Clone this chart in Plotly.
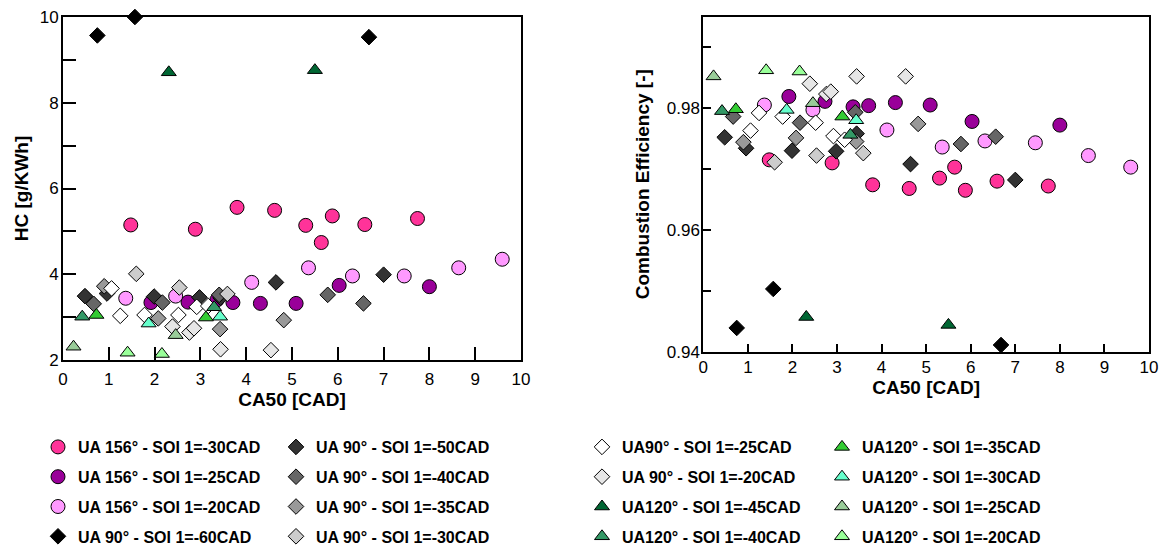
import plotly.graph_objects as go

# ---------------- data ----------------
names = [
    "UA 156° - SOI 1=-30CAD", "UA 156° - SOI 1=-25CAD", "UA 156° - SOI 1=-20CAD", "UA 90° - SOI 1=-60CAD",
    "UA 90° - SOI 1=-50CAD", "UA 90° - SOI 1=-40CAD", "UA 90° - SOI 1=-35CAD", "UA 90° - SOI 1=-30CAD",
    "UA90° - SOI 1=-25CAD", "UA 90° - SOI 1=-20CAD", "UA120° - SOI 1=-45CAD", "UA120° - SOI 1=-40CAD",
    "UA120° - SOI 1=-35CAD", "UA120° - SOI 1=-30CAD", "UA120° - SOI 1=-25CAD", "UA120° - SOI 1=-20CAD",
]

ua156_30_ca50 = [1.48, 2.89, 3.80, 4.62, 5.30, 5.64, 5.88, 6.59, 7.74]
ua156_30_hc = [5.15, 5.05, 5.56, 5.49, 5.14, 4.74, 5.36, 5.16, 5.30]
ua156_30_ce = [0.9715, 0.9710, 0.9674, 0.9668, 0.9685, 0.9703, 0.9665, 0.9680, 0.9672]

ua156_25_ca50 = [1.92, 2.73, 3.36, 3.71, 4.31, 5.09, 6.03, 8.00]
ua156_25_hc = [3.34, 3.35, 3.40, 3.34, 3.32, 3.32, 3.74, 3.71]
ua156_25_ce = [0.9819, 0.9811, 0.9802, 0.9804, 0.9809, 0.9805, 0.9778, 0.9772]

ua156_20_ca50 = [1.37, 2.46, 4.12, 5.36, 6.32, 7.45, 8.64, 9.59]
ua156_20_hc = [3.44, 3.49, 3.81, 4.15, 3.96, 3.96, 4.15, 4.35]
ua156_20_ce = [0.9805, 0.9797, 0.9764, 0.9736, 0.9746, 0.9743, 0.9722, 0.9703]

ua90_60_ca50 = [0.75, 1.57, 6.68]
ua90_60_hc = [9.57, 10.0, 9.53]
ua90_60_ce = [0.9439, 0.9503, 0.9411]

ua90_50_ca50 = [0.48, 0.96, 1.99, 2.98, 3.44, 4.65, 7.00]
ua90_50_hc = [3.49, 3.55, 3.48, 3.46, 3.45, 3.81, 3.99]
ua90_50_ce = [0.9752, 0.9734, 0.9730, 0.9729, 0.9758, 0.9708, 0.9682]

ua90_40_ca50 = [0.67, 2.17, 3.41, 5.78, 6.56]
ua90_40_hc = [3.31, 3.34, 3.52, 3.52, 3.32]
ua90_40_ce = [0.9786, 0.9776, 0.9793, 0.9741, 0.9753]

ua90_35_ca50 = [0.90, 2.08, 3.43, 4.82]
ua90_35_hc = [3.72, 2.97, 2.72, 2.93]
ua90_35_ce = [0.9744, 0.9751, 0.9745, 0.9774]

ua90_30_ca50 = [1.60, 2.54, 3.59]
ua90_30_hc = [4.01, 3.69, 3.54]
ua90_30_ce = [0.9711, 0.9722, 0.9726]

ua90_25_ca50 = [1.06, 1.25, 1.78, 2.52, 2.92, 3.17]
ua90_25_hc = [3.67, 3.03, 3.05, 3.05, 3.24, 3.26]
ua90_25_ce = [0.9763, 0.9792, 0.9786, 0.9776, 0.9754, 0.9748]

ua90_20_ca50 = [2.39, 2.76, 2.86, 3.44, 4.54]
ua90_20_hc = [2.78, 2.64, 2.74, 2.25, 2.23]
ua90_20_ce = [0.9840, 0.9823, 0.9827, 0.9852, 0.9852]

ua120_45_ca50 = [2.31, 5.50]
ua120_45_hc = [8.71, 8.76]
ua120_45_ce = [0.9457, 0.9444]

ua120_40_ca50 = [0.42, 3.30]
ua120_40_hc = [3.01, 3.23]
ua120_40_ce = [0.9795, 0.9756]

ua120_35_ca50 = [0.73, 3.12]
ua120_35_hc = [3.05, 2.99]
ua120_35_ce = [0.9798, 0.9786]

ua120_30_ca50 = [1.87, 3.43]
ua120_30_hc = [2.85, 3.01]
ua120_30_ce = [0.9797, 0.9780]

ua120_25_ca50 = [0.23, 2.46]
ua120_25_hc = [2.31, 2.58]
ua120_25_ce = [0.9852, 0.9808]

ua120_20_ca50 = [1.41, 2.16]
ua120_20_hc = [2.17, 2.14]
ua120_20_ce = [0.9862, 0.9860]

series_ca50 = [ua156_30_ca50, ua156_25_ca50, ua156_20_ca50, ua90_60_ca50, ua90_50_ca50, ua90_40_ca50,
               ua90_35_ca50, ua90_30_ca50, ua90_25_ca50, ua90_20_ca50, ua120_45_ca50, ua120_40_ca50,
               ua120_35_ca50, ua120_30_ca50, ua120_25_ca50, ua120_20_ca50]
series_hc = [ua156_30_hc, ua156_25_hc, ua156_20_hc, ua90_60_hc, ua90_50_hc, ua90_40_hc,
             ua90_35_hc, ua90_30_hc, ua90_25_hc, ua90_20_hc, ua120_45_hc, ua120_40_hc,
             ua120_35_hc, ua120_30_hc, ua120_25_hc, ua120_20_hc]
series_ce = [ua156_30_ce, ua156_25_ce, ua156_20_ce, ua90_60_ce, ua90_50_ce, ua90_40_ce,
             ua90_35_ce, ua90_30_ce, ua90_25_ce, ua90_20_ce, ua120_45_ce, ua120_40_ce,
             ua120_35_ce, ua120_30_ce, ua120_25_ce, ua120_20_ce]

colors = ["#FF3399", "#990099", "#FF99FF", "#000000", "#333333", "#666666", "#999999", "#CCCCCC",
          "#FFFFFF", "#E6E6E6", "#006633", "#339966", "#33CC33", "#66FFCC", "#99CC99", "#99FF99"]
symbols = ["circle"] * 3 + ["diamond"] * 7 + ["triangle-up"] * 6
sizes = [14] * 3 + [12] * 7 + [13] * 6

FONT = "Arial, Liberation Sans, sans-serif"

fig = go.Figure()
legend_ids = ["legend", "legend2", "legend3", "legend4"]
for i, name in enumerate(names):
    mk = dict(symbol=symbols[i], size=sizes[i], color=colors[i], line=dict(color="black", width=1))
    fig.add_trace(go.Scatter(x=series_ca50[i], y=series_hc[i], mode="markers", name=name, marker=mk,
                             xaxis="x", yaxis="y", cliponaxis=False, legendgroup=f"g{i}",
                             legend=legend_ids[i // 4], showlegend=True))
    fig.add_trace(go.Scatter(x=series_ca50[i], y=series_ce[i], mode="markers", name=name, marker=mk,
                             xaxis="x2", yaxis="y2", cliponaxis=False, legendgroup=f"g{i}",
                             showlegend=False))

W, H = 1164, 551
axis_common = dict(showline=True, linecolor="black", mirror=True, showgrid=False, zeroline=False,
                   ticks="inside", tickcolor="black", automargin=False,
                   tickfont=dict(family=FONT, size=17, color="black"))

fig.update_layout(
    width=W, height=H,
    margin=dict(l=0, r=0, t=0, b=0, autoexpand=False),
    paper_bgcolor="white", plot_bgcolor="white",
    font=dict(family=FONT, color="black"),
    xaxis=dict(domain=[63 / W, 521 / W], range=[0, 10], dtick=1, ticklen=13, tickwidth=2, linewidth=2,
               anchor="y", ticklabelstandoff=3,
               title=dict(text="CA50 [CAD]", font=dict(family=FONT, size=19, weight="bold"), standoff=4),
               **axis_common),
    yaxis=dict(domain=[1 - 360 / H, 1 - 17 / H], range=[2, 10], dtick=2, ticklen=13, tickwidth=2,
               linewidth=2, anchor="x", ticklabelstandoff=-1,
               minor=dict(dtick=1, ticks="inside", ticklen=13, tickwidth=2, tickcolor="black"),
               title=dict(text="HC [g/KWh]", font=dict(family=FONT, size=19, weight="bold"), standoff=6),
               **axis_common),
    xaxis2=dict(domain=[703.3 / W, 1149 / W], range=[0, 10], dtick=1, ticklen=8, tickwidth=1.5,
                linewidth=2, anchor="y2", ticklabelstandoff=-1,
                title=dict(text="CA50 [CAD]", font=dict(family=FONT, size=19, weight="bold"), standoff=0),
                **axis_common),
    yaxis2=dict(domain=[1 - 351.7 / H, 1 - 16.7 / H], range=[0.94, 0.995], dtick=0.02, ticklen=8,
                tickwidth=1.5, linewidth=2, anchor="x2", tickformat=".2f", ticklabelstandoff=-2,
                minor=dict(dtick=0.01, ticks="inside", ticklen=8, tickwidth=1.5, tickcolor="black"),
                title=dict(text="Combustion Efficiency [-]", font=dict(family=FONT, size=19, weight="bold"),
                           standoff=12),
                **axis_common),
)

leg_x = [38 / W, 276 / W, 582 / W, 822 / W]
for k, lid in enumerate(legend_ids):
    fig.update_layout({lid: dict(x=leg_x[k], y=1 - 430 / H, xanchor="left", yanchor="top",
                                 orientation="v", bgcolor="rgba(0,0,0,0)", tracegroupgap=6,
                                 itemsizing="trace",
                                 font=dict(family=FONT, size=16, color="black", weight="bold"))})

fig.write_html("out.html", config={"displayModeBar": False},
               post_script="document.body.style.margin='0px';")
